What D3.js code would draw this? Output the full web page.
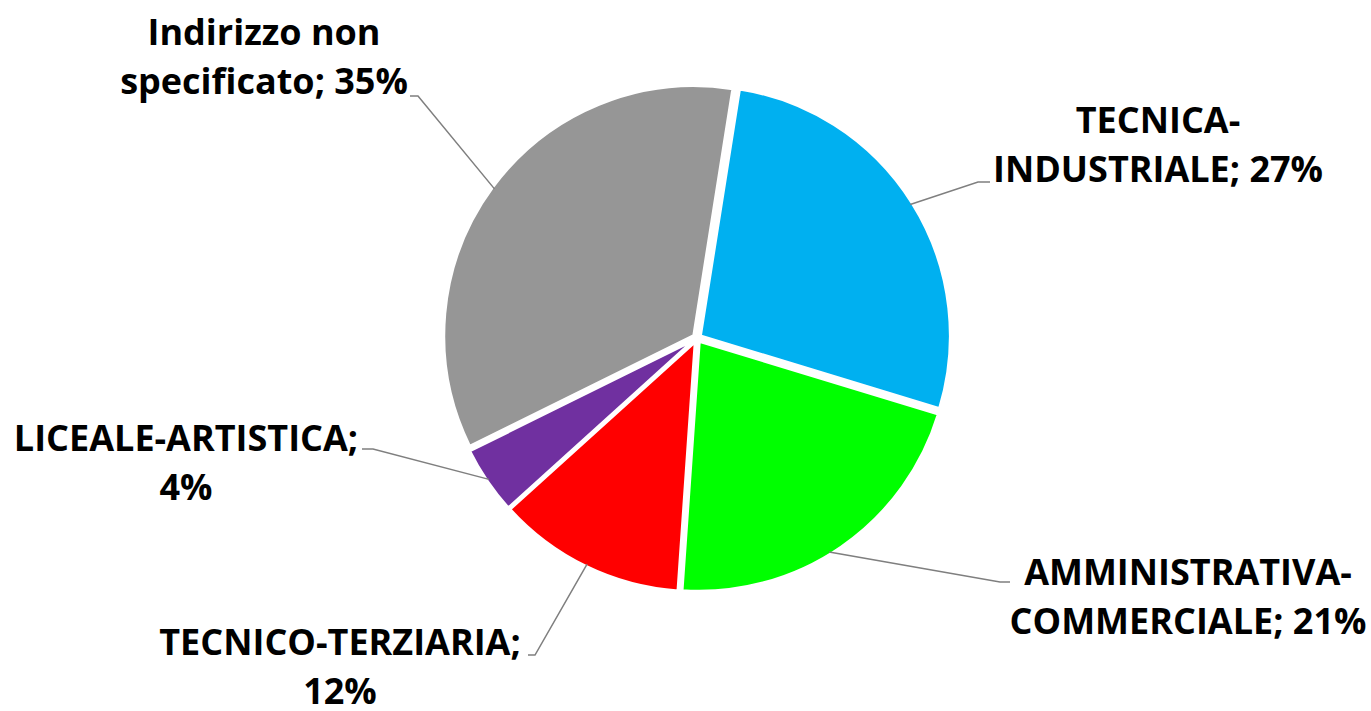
<!DOCTYPE html>
<html>
<head>
<meta charset="utf-8">
<script src="https://cdn.jsdelivr.net/npm/d3@7"></script>
<style>
  body { margin: 0; background: #fff; }
  .lbl { font-family: "Open Sans", sans-serif; font-weight: 700; font-size: 36px; fill: #000; }
</style>
</head>
<body>
<div id="chart"></div>
<script>
var svgWidth = 1371;
var svgHeight = 711;

// data (share of each school track)
var categories = ["TECNICA-INDUSTRIALE", "AMMINISTRATIVA-COMMERCIALE", "TECNICO-TERZIARIA", "LICEALE-ARTISTICA", "Indirizzo non specificato"];
var values = [27.2, 21.4, 12.2, 4.4, 34.8];
var pctLabels = ["27%", "21%", "12%", "4%", "35%"];
var colors = ["#00B0F0", "#00FF00", "#FF0000", "#7030A0", "#969696"];

// label lines (wrapped like the original)
var labelLines = [
  ["TECNICA-", "INDUSTRIALE; 27%"],
  ["AMMINISTRATIVA-", "COMMERCIALE; 21%"],
  ["TECNICO-TERZIARIA;", "12%"],
  ["LICEALE-ARTISTICA;", "4%"],
  ["Indirizzo non", "specificato; 35%"]
];

var cx = 697, cy = 338, radius = 250;
var explode = 4;

// label layout: centre x, first baseline, elbow point of the leader
var labelPos = [
  { x: 1158, y: 133, elbow: [978, 182], end: [990, 182] },
  { x: 1188, y: 585, elbow: [1000, 582], end: [1010, 582] },
  { x: 340, y: 655, elbow: [535, 655], end: [528, 655] },
  { x: 186, y: 451, elbow: [373, 449], end: [362, 449] },
  { x: 264, y: 45, elbow: [418, 96], end: [410, 96] }
];
var lineGap = 49;

var svg = d3.select("#chart")
  .append("svg")
  .attr("width", svgWidth)
  .attr("height", svgHeight);

var pieGroup = svg.append("g")
  .attr("transform", `translate(${cx}, ${cy})`);

var startAngle = 9 * Math.PI / 180;

var pie = d3.pie()
  .sort(null)
  .value(function(d) { return d; })
  .startAngle(startAngle)
  .endAngle(startAngle + 2 * Math.PI);

var arc = d3.arc()
  .innerRadius(0)
  .outerRadius(radius);

var arcs = pie(values);

pieGroup.selectAll("path.slice")
  .data(arcs)
  .enter()
  .append("path")
  .attr("class", "slice")
  .attr("d", arc)
  .attr("fill", function(d, i) { return colors[i]; })
  .attr("stroke", "#fff")
  .attr("stroke-width", 3)
  .attr("transform", function(d) {
    var a = (d.startAngle + d.endAngle) / 2;
    return `translate(${Math.sin(a) * explode}, ${-Math.cos(a) * explode})`;
  });

// leader lines, from the slice edge to the label
var leaderAngleShift = [0, 0.05, 0, 0, 0];
svg.selectAll("polyline.leader")
  .data(arcs)
  .enter()
  .append("polyline")
  .attr("class", "leader")
  .attr("fill", "none")
  .attr("stroke", "#7f7f7f")
  .attr("stroke-width", 1.5)
  .attr("points", function(d, i) {
    var a = (d.startAngle + d.endAngle) / 2 + leaderAngleShift[i];
    var r = radius * 0.99 + explode;
    var p0 = [cx + Math.sin(a) * r, cy - Math.cos(a) * r];
    var lp = labelPos[i];
    return [p0, lp.elbow, lp.end].map(function(p) { return p.join(","); }).join(" ");
  });

// labels
var labels = svg.selectAll("text.lbl")
  .data(labelLines)
  .enter()
  .append("text")
  .attr("class", "lbl")
  .attr("text-anchor", "middle");

labels.each(function(lines, i) {
  var t = d3.select(this);
  lines.forEach(function(line, j) {
    t.append("tspan")
      .attr("x", labelPos[i].x)
      .attr("y", labelPos[i].y + j * lineGap)
      .text(line);
  });
});
</script>
</body>
</html>
